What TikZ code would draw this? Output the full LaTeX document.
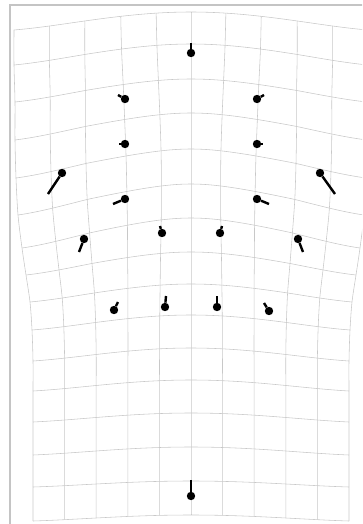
\documentclass[tikz,border=0pt]{standalone}
\usepackage{tikz}
\usetikzlibrary{positioning}

\definecolor{gridgray}{RGB}{200,200,200}
\definecolor{framegray}{RGB}{196,196,196}

% row heights, edge dip and half width of the warped grid (px)
\def\rowY{{12,44,79,113,149,184,218,252,284,315,348,380,413,447,481,515}}
\def\rowDip{{18,21,23,27,29,31,30,23,18,15,13,11,9,8,6,6}}
\def\rowHw{{177,177,176,176,175,173,169,165,161,159,158,158,158,158,158,158}}

\begin{document}
\begin{tikzpicture}[x=0.5mm,y=-0.5mm,
  declare function={
    gx(\u,\v)=191+\u*\rowHw[\v]/5-6*sin(max(-3,min(3,\u))*60)*exp(-(\v-4.5)*(\v-4.5)/9);
    gy(\u,\v)=\rowY[\v]+\rowDip[\v]*(\u*\u/25)*(1.6-0.6*\u*\u/25);
  }]
	 \tikzstyle{gridline}=[draw,gridgray,line width=0.8pt]
	 \tikzstyle{landmark}=[circle,fill=black,minimum size=4.2mm,inner sep=0pt]
	 \tikzstyle{tail}=[draw,black,line width=1.2mm]
	 \useasboundingbox (0,0) rectangle (362,524);
	 \clip (0,0) rectangle (362,524);

	 \draw[framegray,line width=1mm] (10,5) rectangle (375,535);

	 % warped grid
	 \foreach \v in {0,...,15}
	   \draw[gridline] plot[smooth,domain=-5:5,samples=41,variable=\u] ({gx(\u,\v)},{gy(\u,\v)});
	 \foreach \u in {-5,...,5}
	   \draw[gridline] plot[smooth,samples at={0,...,15},variable=\v] ({gx(\u,\v)},{gy(\u,\v)});

	 \node[landmark] (m1) at (191,53) {};
	 \node[landmark] (m2) at (125,99) {};
	 \node[landmark] (m3) at (257,99) {};
	 \node[landmark] (m4) at (125,144) {};
	 \node[landmark] (m5) at (257,144) {};
	 \node[landmark] (m6) at (62,173) {};
	 \node[landmark] (m7) at (320,173) {};
	 \node[landmark] (m8) at (125,199) {};
	 \node[landmark] (m9) at (257,199) {};
	 \node[landmark] (m10) at (162,233) {};
	 \node[landmark] (m11) at (220,233) {};
	 \node[landmark] (m12) at (84,239) {};
	 \node[landmark] (m13) at (298,239) {};
	 \node[landmark] (m14) at (114,310) {};
	 \node[landmark] (m15) at (165,307) {};
	 \node[landmark] (m16) at (217,307) {};
	 \node[landmark] (m17) at (269,311) {};
	 \node[landmark] (m18) at (191,496) {};

	 \coordinate (t1) at (191,43);
	 \coordinate (t2) at (118,95);
	 \coordinate (t3) at (264,95);
	 \coordinate (t4) at (119,144);
	 \coordinate (t5) at (263,144);
	 \coordinate (t6) at (48,194);
	 \coordinate (t7) at (335,194);
	 \coordinate (t8) at (113,204);
	 \coordinate (t9) at (269,204);
	 \coordinate (t10) at (160,226);
	 \coordinate (t11) at (222,226);
	 \coordinate (t12) at (79,252);
	 \coordinate (t13) at (303,252);
	 \coordinate (t14) at (118,302);
	 \coordinate (t15) at (166,296);
	 \coordinate (t16) at (217,296);
	 \coordinate (t17) at (264,303);
	 \coordinate (t18) at (191,480);

	 \foreach \i in {1,...,18}
	   \draw[tail] (m\i) -- (t\i);
 \end{tikzpicture}
\end{document}
